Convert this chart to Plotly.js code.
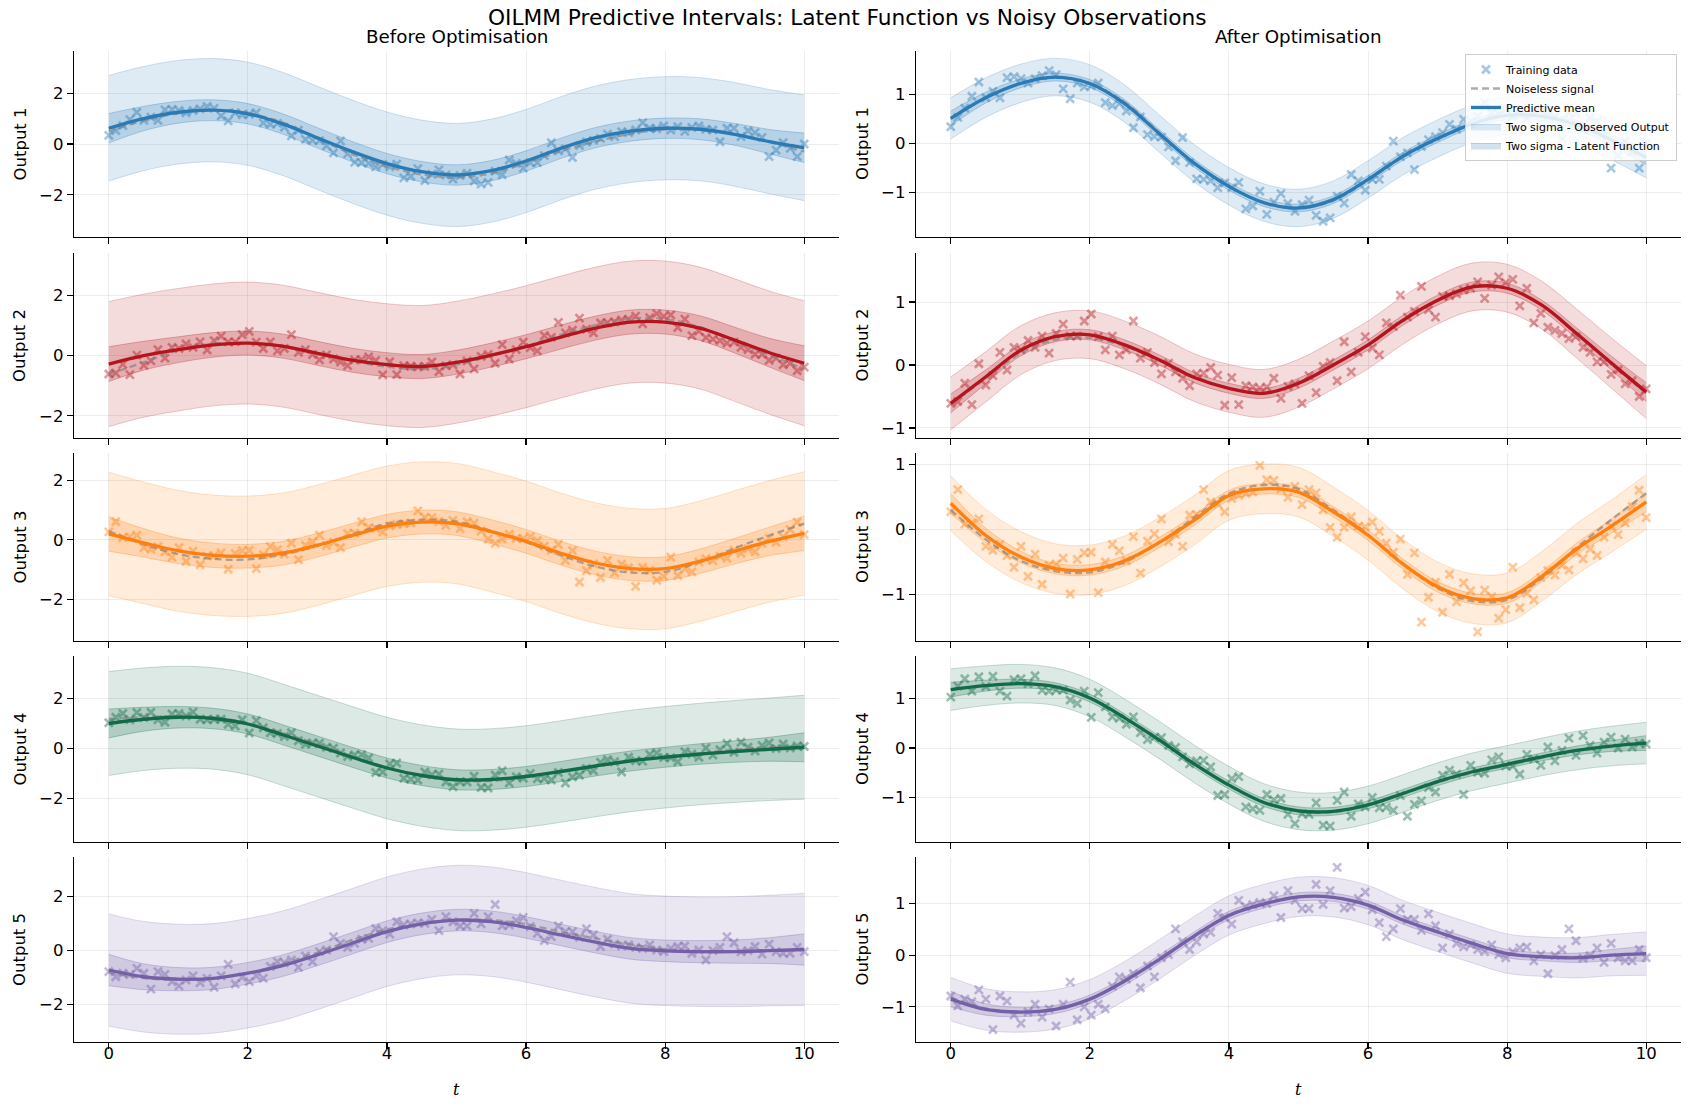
<!DOCTYPE html>
<html>
<head>
<meta charset="utf-8">
<script src="https://cdn.plot.ly/plotly-3.0.1.min.js"></script>
<style>html,body{margin:0;padding:0;background:#fff;}#chart{width:1693px;height:1109px;}</style>
</head>
<body>
<div id="chart"></div>
<script>
// ---------------- DATA ----------------
const tObs = [0,0.101,0.202,0.303,0.404,0.505,0.606,0.707,0.808,0.909,1.010,1.111,1.212,1.313,1.414,1.515,1.616,1.717,1.818,1.919,
2.020,2.121,2.222,2.323,2.424,2.525,2.626,2.727,2.828,2.929,3.030,3.131,3.232,3.333,3.434,3.535,3.636,3.737,3.838,3.939,
4.040,4.141,4.242,4.343,4.444,4.545,4.646,4.747,4.848,4.949,5.051,5.152,5.253,5.354,5.455,5.556,5.657,5.758,5.859,5.960,
6.061,6.162,6.263,6.364,6.465,6.566,6.667,6.768,6.869,6.970,7.071,7.172,7.273,7.374,7.475,7.576,7.677,7.778,7.879,7.980,
8.081,8.182,8.283,8.384,8.485,8.586,8.687,8.788,8.889,8.990,9.091,9.192,9.293,9.394,9.495,9.596,9.697,9.798,9.899,10.0];

const tGrid = [0,0.5,1,1.5,2,2.5,3,3.5,4,4.5,5,5.5,6,6.5,7,7.5,8,8.5,9,9.5,10];

const obs1 = [0.34,0.53,0.72,0.96,1.25,0.93,1.06,0.93,1.34,1.36,
1.32,1.23,1.32,1.38,1.48,1.40,1.11,0.91,1.23,1.15,
1.17,1.23,0.83,0.77,0.81,0.66,0.32,0.54,0.18,0.14,
0.13,-0.07,-0.35,0.12,-0.39,-0.72,-0.73,-0.76,-0.90,-0.80,
-0.90,-0.79,-1.33,-1.27,-0.97,-1.44,-1.19,-1.02,-1.22,-1.38,
-1.24,-1.15,-1.46,-1.58,-1.51,-1.07,-1.21,-0.63,-0.76,-0.95,
-0.73,-0.73,-0.46,0.05,-0.27,-0.19,-0.53,-0.06,0.08,0.14,
0.22,0.39,0.29,0.49,0.45,0.55,0.84,0.62,0.60,0.71,
0.55,0.68,0.50,0.65,0.71,0.58,0.55,0.09,0.62,0.62,
0.29,0.52,0.45,0.26,-0.50,-0.24,0.05,-0.17,-0.50,0.00];

const obs2 = [-0.61,-0.58,-0.29,-0.63,0.02,-0.32,-0.17,0.20,-0.08,0.28,
0.24,0.39,0.28,0.46,0.19,0.50,0.65,0.46,0.46,0.70,
0.81,0.45,0.24,0.46,0.16,0.24,0.70,0.11,0.20,0.04,
-0.14,0.03,-0.11,-0.21,-0.33,-0.14,-0.13,-0.04,-0.16,-0.64,
-0.20,-0.63,-0.33,-0.35,-0.37,-0.35,-0.21,-0.53,-0.34,-0.30,
-0.61,-0.17,-0.44,-0.02,0.04,-0.25,0.37,-0.11,0.20,0.45,
0.27,0.16,0.67,0.61,1.11,0.76,0.85,1.25,0.88,0.76,
1.09,1.10,1.13,1.19,1.22,1.32,1.06,1.27,1.40,1.31,
1.36,0.94,1.22,0.67,0.82,0.60,0.55,0.50,0.42,0.45,
0.28,0.20,0.05,0.05,-0.15,-0.08,-0.30,-0.25,-0.50,-0.38];

const obs3 = [0.27,0.61,0.08,0.10,0.16,-0.26,-0.32,-0.23,-0.40,-0.58,
-0.26,-0.72,-0.38,-0.84,-0.55,-0.53,-0.44,-0.99,-0.46,-0.36,
-0.35,-0.97,-0.50,-0.23,-0.33,-0.48,-0.11,-0.67,-0.18,-0.07,
0.16,-0.19,-0.08,-0.26,0.22,0.23,0.61,0.42,0.39,0.27,
0.47,0.52,0.55,0.57,0.98,0.76,0.75,0.62,0.49,0.66,
0.38,0.61,0.56,0.30,0.03,-0.12,0.03,0.19,0.05,0.04,
0.11,-0.03,-0.21,-0.35,-0.15,-0.69,-0.36,-1.42,-1.04,-0.81,
-1.27,-0.69,-1.11,-0.82,-0.94,-1.57,-0.93,-1.03,-1.36,-1.23,
-0.58,-1.20,-0.98,-1.08,-0.74,-0.63,-0.70,-0.55,-0.62,-0.35,
-0.45,-0.30,-0.40,-0.12,0.05,-0.08,0.10,0.35,0.60,0.18];

const obs4 = [1.03,1.25,1.40,1.15,1.44,1.24,1.45,1.15,1.05,1.38,
1.40,1.30,1.46,1.17,1.15,1.17,1.17,0.97,0.90,1.15,
0.62,1.12,0.83,0.63,0.60,0.48,0.63,0.31,0.17,0.22,
0.21,0.05,0.01,-0.18,-0.32,-0.26,-0.25,-0.38,-0.96,-0.94,
-0.62,-0.58,-1.19,-1.23,-1.26,-0.94,-1.05,-1.02,-1.34,-1.53,
-1.33,-1.34,-1.11,-1.56,-1.58,-1.06,-0.89,-1.38,-1.13,-1.19,
-1.00,-1.21,-1.20,-1.26,-0.96,-1.38,-1.14,-1.07,-0.80,-0.89,
-0.55,-0.45,-0.53,-0.94,-0.35,-0.49,-0.51,-0.24,-0.18,-0.36,
-0.37,-0.53,-0.13,-0.22,-0.35,0.02,-0.26,-0.05,0.20,-0.15,
0.25,0.05,-0.10,0.12,0.22,0.00,0.18,0.02,0.10,0.08];

const obs5 = [-0.79,-0.98,-0.85,-0.90,-0.67,-0.85,-1.44,-0.79,-0.89,-1.16,
-1.32,-1.10,-0.95,-1.20,-1.04,-1.37,-0.95,-0.52,-1.25,-1.00,
-1.16,-0.95,-1.04,-0.60,-0.42,-0.46,-0.36,-0.63,-0.21,-0.42,
-0.05,0.01,0.51,0.26,0.11,0.26,0.41,0.44,0.81,0.73,
0.60,1.06,0.94,0.98,1.02,1.00,1.15,0.73,1.25,1.06,
0.90,0.90,1.37,0.98,1.25,1.70,0.91,0.94,1.10,1.22,
0.88,0.63,0.36,0.51,0.90,0.69,0.69,0.48,0.80,0.57,
0.14,0.41,0.23,0.16,0.20,0.11,0.07,0.20,0.01,-0.05,
0.07,0.14,0.16,-0.11,0.01,-0.36,-0.01,0.11,0.51,0.28,
-0.06,-0.01,0.14,-0.14,0.23,-0.05,-0.11,-0.11,0.11,-0.05];

// noiseless signals on tGrid
const signal1 = [0.50,0.92,1.21,1.34,1.22,0.84,0.22,-0.40,-0.88,-1.20,-1.32,-1.16,-0.75,-0.28,0.10,0.40,0.58,0.57,0.40,0.08,-0.30];
const signal2 = [-0.62,-0.22,0.18,0.40,0.43,0.30,0.07,-0.18,-0.37,-0.45,-0.30,0.00,0.32,0.70,1.02,1.24,1.22,0.95,0.48,0.02,-0.45];
const signal3 = [0.30,-0.15,-0.48,-0.64,-0.66,-0.50,-0.20,0.18,0.55,0.68,0.62,0.30,-0.08,-0.52,-0.90,-1.10,-1.08,-0.75,-0.28,0.15,0.55];
const signal4 = [1.18,1.26,1.30,1.24,1.02,0.62,0.17,-0.32,-0.76,-1.10,-1.28,-1.30,-1.15,-0.92,-0.70,-0.50,-0.35,-0.20,-0.05,0.05,0.12];
const signal5 = [-0.82,-1.03,-1.10,-1.05,-0.85,-0.50,-0.08,0.38,0.78,1.00,1.13,1.12,0.97,0.68,0.44,0.22,0.04,-0.03,-0.05,-0.01,0.03];

// predictive means before optimisation
const meanBefore1 = [0.62,1.00,1.25,1.33,1.19,0.79,0.24,-0.30,-0.77,-1.09,-1.22,-1.05,-0.67,-0.17,0.25,0.51,0.62,0.58,0.38,0.09,-0.15];
const meanBefore2 = [-0.28,0.00,0.20,0.36,0.42,0.32,0.08,-0.15,-0.30,-0.36,-0.22,0.02,0.30,0.62,0.92,1.12,1.12,0.92,0.52,0.10,-0.25];
const meanBefore3 = [0.20,-0.10,-0.37,-0.52,-0.55,-0.45,-0.18,0.15,0.46,0.60,0.55,0.28,-0.05,-0.45,-0.78,-0.97,-0.97,-0.72,-0.38,-0.05,0.22];
const meanBefore4 = [1.00,1.17,1.25,1.20,0.98,0.55,0.10,-0.35,-0.78,-1.08,-1.25,-1.24,-1.12,-0.92,-0.70,-0.50,-0.35,-0.22,-0.12,-0.03,0.05];
const meanBefore5 = [-0.73,-0.98,-1.07,-1.04,-0.85,-0.57,-0.17,0.26,0.69,0.98,1.12,1.06,0.85,0.57,0.30,0.07,-0.02,-0.05,-0.05,-0.01,0.03];

// predictive means after optimisation
const meanAfter1 = [0.51,0.93,1.22,1.35,1.22,0.81,0.20,-0.40,-0.87,-1.20,-1.31,-1.14,-0.73,-0.26,0.10,0.40,0.57,0.55,0.38,0.07,-0.28];
const meanAfter2 = [-0.61,-0.19,0.23,0.45,0.48,0.32,0.08,-0.20,-0.37,-0.45,-0.29,0.00,0.32,0.71,1.03,1.24,1.22,0.95,0.50,0.03,-0.43];
const meanAfter3 = [0.40,-0.09,-0.42,-0.60,-0.62,-0.48,-0.20,0.14,0.52,0.62,0.57,0.27,-0.09,-0.53,-0.88,-1.06,-1.05,-0.72,-0.30,0.05,0.42];
const meanAfter4 = [1.18,1.26,1.30,1.24,1.01,0.61,0.16,-0.32,-0.75,-1.10,-1.27,-1.28,-1.15,-0.92,-0.68,-0.48,-0.33,-0.18,-0.05,0.04,0.10];
const meanAfter5 = [-0.85,-1.05,-1.10,-1.05,-0.85,-0.50,-0.08,0.37,0.77,0.99,1.13,1.12,0.97,0.68,0.45,0.23,0.03,-0.03,-0.05,0.00,0.03];

// two-sigma half widths on tGrid
const latentHalfBefore = [0.58,0.48,0.43,0.41,0.40,0.40,0.40,0.40,0.40,0.40,0.40,0.40,0.40,0.40,0.40,0.40,0.40,0.41,0.43,0.48,0.58];
const obsHalfBefore    = [2.08,2.05,2.04,2.03,2.03,2.03,2.03,2.03,2.03,2.03,2.03,2.03,2.03,2.03,2.03,2.03,2.03,2.03,2.04,2.05,2.08];
const latentHalfAfter  = [0.15,0.11,0.09,0.08,0.08,0.08,0.08,0.08,0.08,0.08,0.08,0.08,0.08,0.08,0.08,0.08,0.08,0.08,0.09,0.11,0.15];
const obsHalfAfter     = [0.42,0.40,0.39,0.38,0.38,0.38,0.38,0.38,0.38,0.38,0.38,0.38,0.38,0.38,0.38,0.38,0.38,0.38,0.39,0.40,0.42];

const outputNames = ['Output 1','Output 2','Output 3','Output 4','Output 5'];
const columnTitles = ['Before Optimisation','After Optimisation'];
const xTicks = [0,2,4,6,8,10];

// ---------------- STYLE ----------------
const colors = ['#2a7ab6','#b3141d','#ff7f0e','#126b48','#7560a8'];
const obsAll = [obs1,obs2,obs3,obs4,obs5];
const sigAll = [signal1,signal2,signal3,signal4,signal5];
const meanB = [meanBefore1,meanBefore2,meanBefore3,meanBefore4,meanBefore5];
const meanA = [meanAfter1,meanAfter2,meanAfter3,meanAfter4,meanAfter5];
const yRangeBefore = [[-3.66,3.66],[-2.74,3.42],[-3.41,2.93],[-3.74,3.70],[-3.40,3.46]];
const yRangeAfter  = [[-1.90,1.88],[-1.16,1.78],[-1.71,1.17],[-1.90,1.86],[-1.68,1.90]];

const W = 1693, H = 1109;
const panelTop = [51,253,453,656,857];
const panelBot = [237,438,641,842,1042];
const colX = [[74,839],[916,1681]];

function rgba(hex,a){const n=parseInt(hex.slice(1),16);return `rgba(${(n>>16)&255},${(n>>8)&255},${n&255},${a})`;}
const FONT = 'DejaVu Sans, Liberation Sans, sans-serif';
const TICK = 16.5;

const traces = [];
const layout = {
  width: W, height: H,
  margin: {l:0,r:0,t:0,b:0},
  paper_bgcolor: '#ffffff', plot_bgcolor: '#ffffff',
  font: {family: FONT, size: TICK, color: '#000'},
  showlegend: true,
  legend: {x: 1677/W, xanchor: 'right', y: 1-54/H, yanchor: 'top', traceorder: 'normal',
           bgcolor: 'rgba(255,255,255,0.85)', bordercolor: '#cccccc', borderwidth: 1,
           font: {family: FONT, size: 11, color: '#000'}, tracegroupgap: 0, itemwidth: 30},
  annotations: [],
  hovermode: false
};

for (let r = 0; r < 5; r++) {
  for (let c = 0; c < 2; c++) {
    const k = r*2 + c + 1;
    const xa = 'x' + (k === 1 ? '' : k), ya = 'y' + (k === 1 ? '' : k);
    const col = colors[r];
    const mean = c === 0 ? meanB[r] : meanA[r];
    const lh = c === 0 ? latentHalfBefore : latentHalfAfter;
    const oh = c === 0 ? obsHalfBefore : obsHalfAfter;
    const leg = (k === 2);
    const common = {xaxis: xa, yaxis: ya, hoverinfo: 'skip'};

    traces.push(Object.assign({type:'scatter', mode:'lines', x: tGrid, y: mean.map((m,i)=>m-oh[i]),
      line:{color: rgba(col,0.22), width:1, shape:'spline'}, showlegend:false}, common));
    traces.push(Object.assign({type:'scatter', mode:'lines', x: tGrid, y: mean.map((m,i)=>m+oh[i]),
      line:{color: rgba(col,0.22), width:1, shape:'spline'}, fill:'tonexty', fillcolor: rgba(col,0.15),
      name:'Two sigma - Observed Output', showlegend: leg, legendrank: 4}, common));
    traces.push(Object.assign({type:'scatter', mode:'lines', x: tGrid, y: mean.map((m,i)=>m-lh[i]),
      line:{color: rgba(col,0.3), width:1, shape:'spline'}, showlegend:false}, common));
    traces.push(Object.assign({type:'scatter', mode:'lines', x: tGrid, y: mean.map((m,i)=>m+lh[i]),
      line:{color: rgba(col,0.3), width:1, shape:'spline'}, fill:'tonexty', fillcolor: rgba(col,0.22),
      name:'Two sigma - Latent Function', showlegend: leg, legendrank: 5}, common));
    traces.push(Object.assign({type:'scatter', mode:'markers', x: tObs, y: obsAll[r],
      marker:{symbol:'x-thin', size:8, color: rgba(col,0.42), line:{color: rgba(col,0.42), width:2.6}},
      name:'Training data', showlegend: leg, legendrank: 1}, common));
    traces.push(Object.assign({type:'scatter', mode:'lines', x: tGrid, y: sigAll[r],
      line:{color: 'rgba(128,128,128,0.65)', width:2.3, dash:'7px,4px', shape:'spline'},
      name:'Noiseless signal', showlegend: leg, legendrank: 2}, common));
    traces.push(Object.assign({type:'scatter', mode:'lines', x: tGrid, y: mean,
      line:{color: col, width:3.3, shape:'spline'},
      name:'Predictive mean', showlegend: leg, legendrank: 3}, common));

    const xd = [colX[c][0]/W, colX[c][1]/W];
    const yd = [1 - panelBot[r]/H, 1 - panelTop[r]/H];
    const xKey = 'xaxis' + (k === 1 ? '' : k), yKey = 'yaxis' + (k === 1 ? '' : k);
    layout[xKey] = {domain: xd, anchor: ya, range: [-0.5, 10.5], tickvals: xTicks,
      showticklabels: r === 4, ticks: 'outside', ticklen: 6, tickwidth: 1.2, tickcolor: '#000',
      ticklabelstandoff: -10,
      showline: true, linecolor: '#000', linewidth: 1.3, mirror: false,
      showgrid: true, gridcolor: 'rgba(0,0,0,0.07)', gridwidth: 1, zeroline: false,
      tickfont: {family: FONT, size: TICK, color: '#000'}};
    const yr = c === 0 ? yRangeBefore[r] : yRangeAfter[r];
    layout[yKey] = {domain: yd, anchor: xa, range: yr, dtick: c === 0 ? 2 : 1, tick0: 0,
      ticks: 'outside', ticklen: 6, tickwidth: 1.2, tickcolor: '#000',
      showline: true, linecolor: '#000', linewidth: 1.3, mirror: false,
      showgrid: true, gridcolor: 'rgba(0,0,0,0.07)', gridwidth: 1, zeroline: false,
      tickfont: {family: FONT, size: TICK, color: '#000'}};

    layout.annotations.push({xref:'paper', yref:'paper', x: (c === 0 ? 19.5 : 862)/W,
      y: 1 - (panelTop[r] + panelBot[r])/2/H, text: outputNames[r], textangle: -90, showarrow: false,
      xanchor: 'center', yanchor: 'middle', font: {family: FONT, size: TICK, color: '#000'}});
  }
}

// column titles, x labels, figure title
for (let c = 0; c < 2; c++) {
  const cx = (colX[c][0] + colX[c][1]) / 2 / W;
  layout.annotations.push({xref:'paper', yref:'paper', x: cx, y: 1 - 37/H, text: columnTitles[c],
    showarrow:false, xanchor:'center', yanchor:'middle', font:{family: FONT, size: 18.3, color:'#000'}});
  layout.annotations.push({xref:'paper', yref:'paper', x: cx, y: 1 - 1089/H, text: '<i>t</i>',
    showarrow:false, xanchor:'center', yanchor:'middle', font:{family: 'DejaVu Serif, serif', size: 16, color:'#000'}});
}
layout.annotations.push({xref:'paper', yref:'paper', x: 848/W, y: 1 - 17.5/H,
  text: 'OILMM Predictive Intervals: Latent Function vs Noisy Observations',
  showarrow:false, xanchor:'center', yanchor:'middle', font:{family: FONT, size: 21.7, color:'#000'}});

Plotly.newPlot('chart', traces, layout, {staticPlot: true, displayModeBar: false});
</script>
</body>
</html>
